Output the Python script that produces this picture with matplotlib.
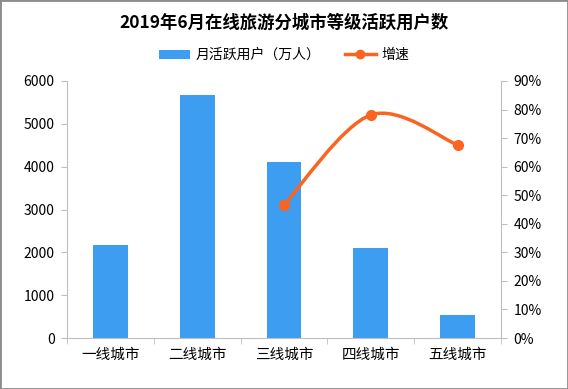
import matplotlib
matplotlib.use('Agg')
import matplotlib.pyplot as plt
from matplotlib.path import Path
from matplotlib.patches import PathPatch, Rectangle, Patch
from matplotlib.lines import Line2D
from matplotlib.ticker import FuncFormatter
import numpy as np

plt.rcParams['font.family'] = ['Noto Sans CJK SC', 'DejaVu Sans']

# data
cities = ['一线城市', '二线城市', '三线城市', '四线城市', '五线城市']
users = [2170, 5680, 4110, 2100, 530]          # 月活跃用户（万人）
growth_idx = [2, 3, 4]                          # only 三/四/五线 have 增速
growth = [46.6, 78.1, 67.6]                     # %

bar_color = '#3d9df0'
line_color = '#fa6420'
grey = '#bfbfbf'

fig = plt.figure(figsize=(5.68, 3.89), dpi=100)
ax = fig.add_axes([67/568, 51/389, 434/568, 257/389])
ax2 = ax.twinx()

x = np.arange(len(cities))
ax.bar(x, users, width=0.4, color=bar_color, zorder=2)
ax.set_xlim(-0.5, len(cities) - 0.5)
ax.set_ylim(0, 6000)
ax.set_yticks(range(0, 6001, 1000))
ax.set_xticks(x)
ax.set_xticklabels(cities, fontsize=10.5)
ax.set_xticks(np.arange(-0.5, len(cities), 1), minor=True)
ax.tick_params(axis='x', which='major', length=0, pad=7)
ax.tick_params(axis='x', which='minor', length=4, color=grey)
ax.tick_params(axis='y', length=4, color=grey, labelsize=10, pad=5)

ax2.set_ylim(0, 90)
ax2.set_yticks(range(0, 91, 10))
ax2.yaxis.set_major_formatter(FuncFormatter(lambda v, p: '%d%%' % v))
ax2.tick_params(axis='y', length=4, color=grey, labelsize=10, pad=5)

for a in (ax, ax2):
    a.spines['top'].set_visible(False)
    for s in a.spines.values():
        s.set_color(grey)
ax.spines['right'].set_visible(False)
ax2.spines['left'].set_visible(False)
ax2.spines['bottom'].set_visible(False)

# smoothed line (catmull-rom style bezier, like Excel smoothing), built in screen space
pts = ax2.transData.transform(np.column_stack([growth_idx, growth]))
n = len(pts)
verts = [pts[0]]
codes = [Path.MOVETO]
for i in range(n - 1):
    p0 = pts[max(i - 1, 0)]
    p1 = pts[i]
    p2 = pts[i + 1]
    p3 = pts[min(i + 2, n - 1)]
    c1 = p1 + (p2 - p0) / 6.0
    c2 = p2 - (p3 - p1) / 6.0
    verts += [c1, c2, p2]
    codes += [Path.CURVE4] * 3
verts = ax2.transData.inverted().transform(np.array(verts))
curve = PathPatch(Path(verts, codes), facecolor='none', edgecolor=line_color,
                  lw=2.5, zorder=3, capstyle='round')
ax2.add_patch(curve)
ax2.plot(growth_idx, growth, linestyle='none', marker='o', markersize=7,
         color=line_color, zorder=4)

fig.text(0.5, 1 - 23/389, '2019年6月在线旅游分城市等级活跃用户数', ha='center', va='center',
         fontsize=12.5, fontweight='bold')

handles = [Patch(facecolor=bar_color, edgecolor='none'),
           Line2D([], [], color=line_color, lw=2.5, marker='o', markersize=6)]
fig.legend(handles, ['月活跃用户（万人）', '增速'], loc='center',
           bbox_to_anchor=(0.5, 1 - 55/389), ncol=2, frameon=False, fontsize=10,
           handlelength=2.2, handleheight=0.6, columnspacing=1.8, handletextpad=0.4)

fig.patches.append(Rectangle((0, 0), 1, 1, transform=fig.transFigure, fill=False,
                             edgecolor='#8c8c8c', lw=2))

fig.savefig('out.png', dpi=100)
